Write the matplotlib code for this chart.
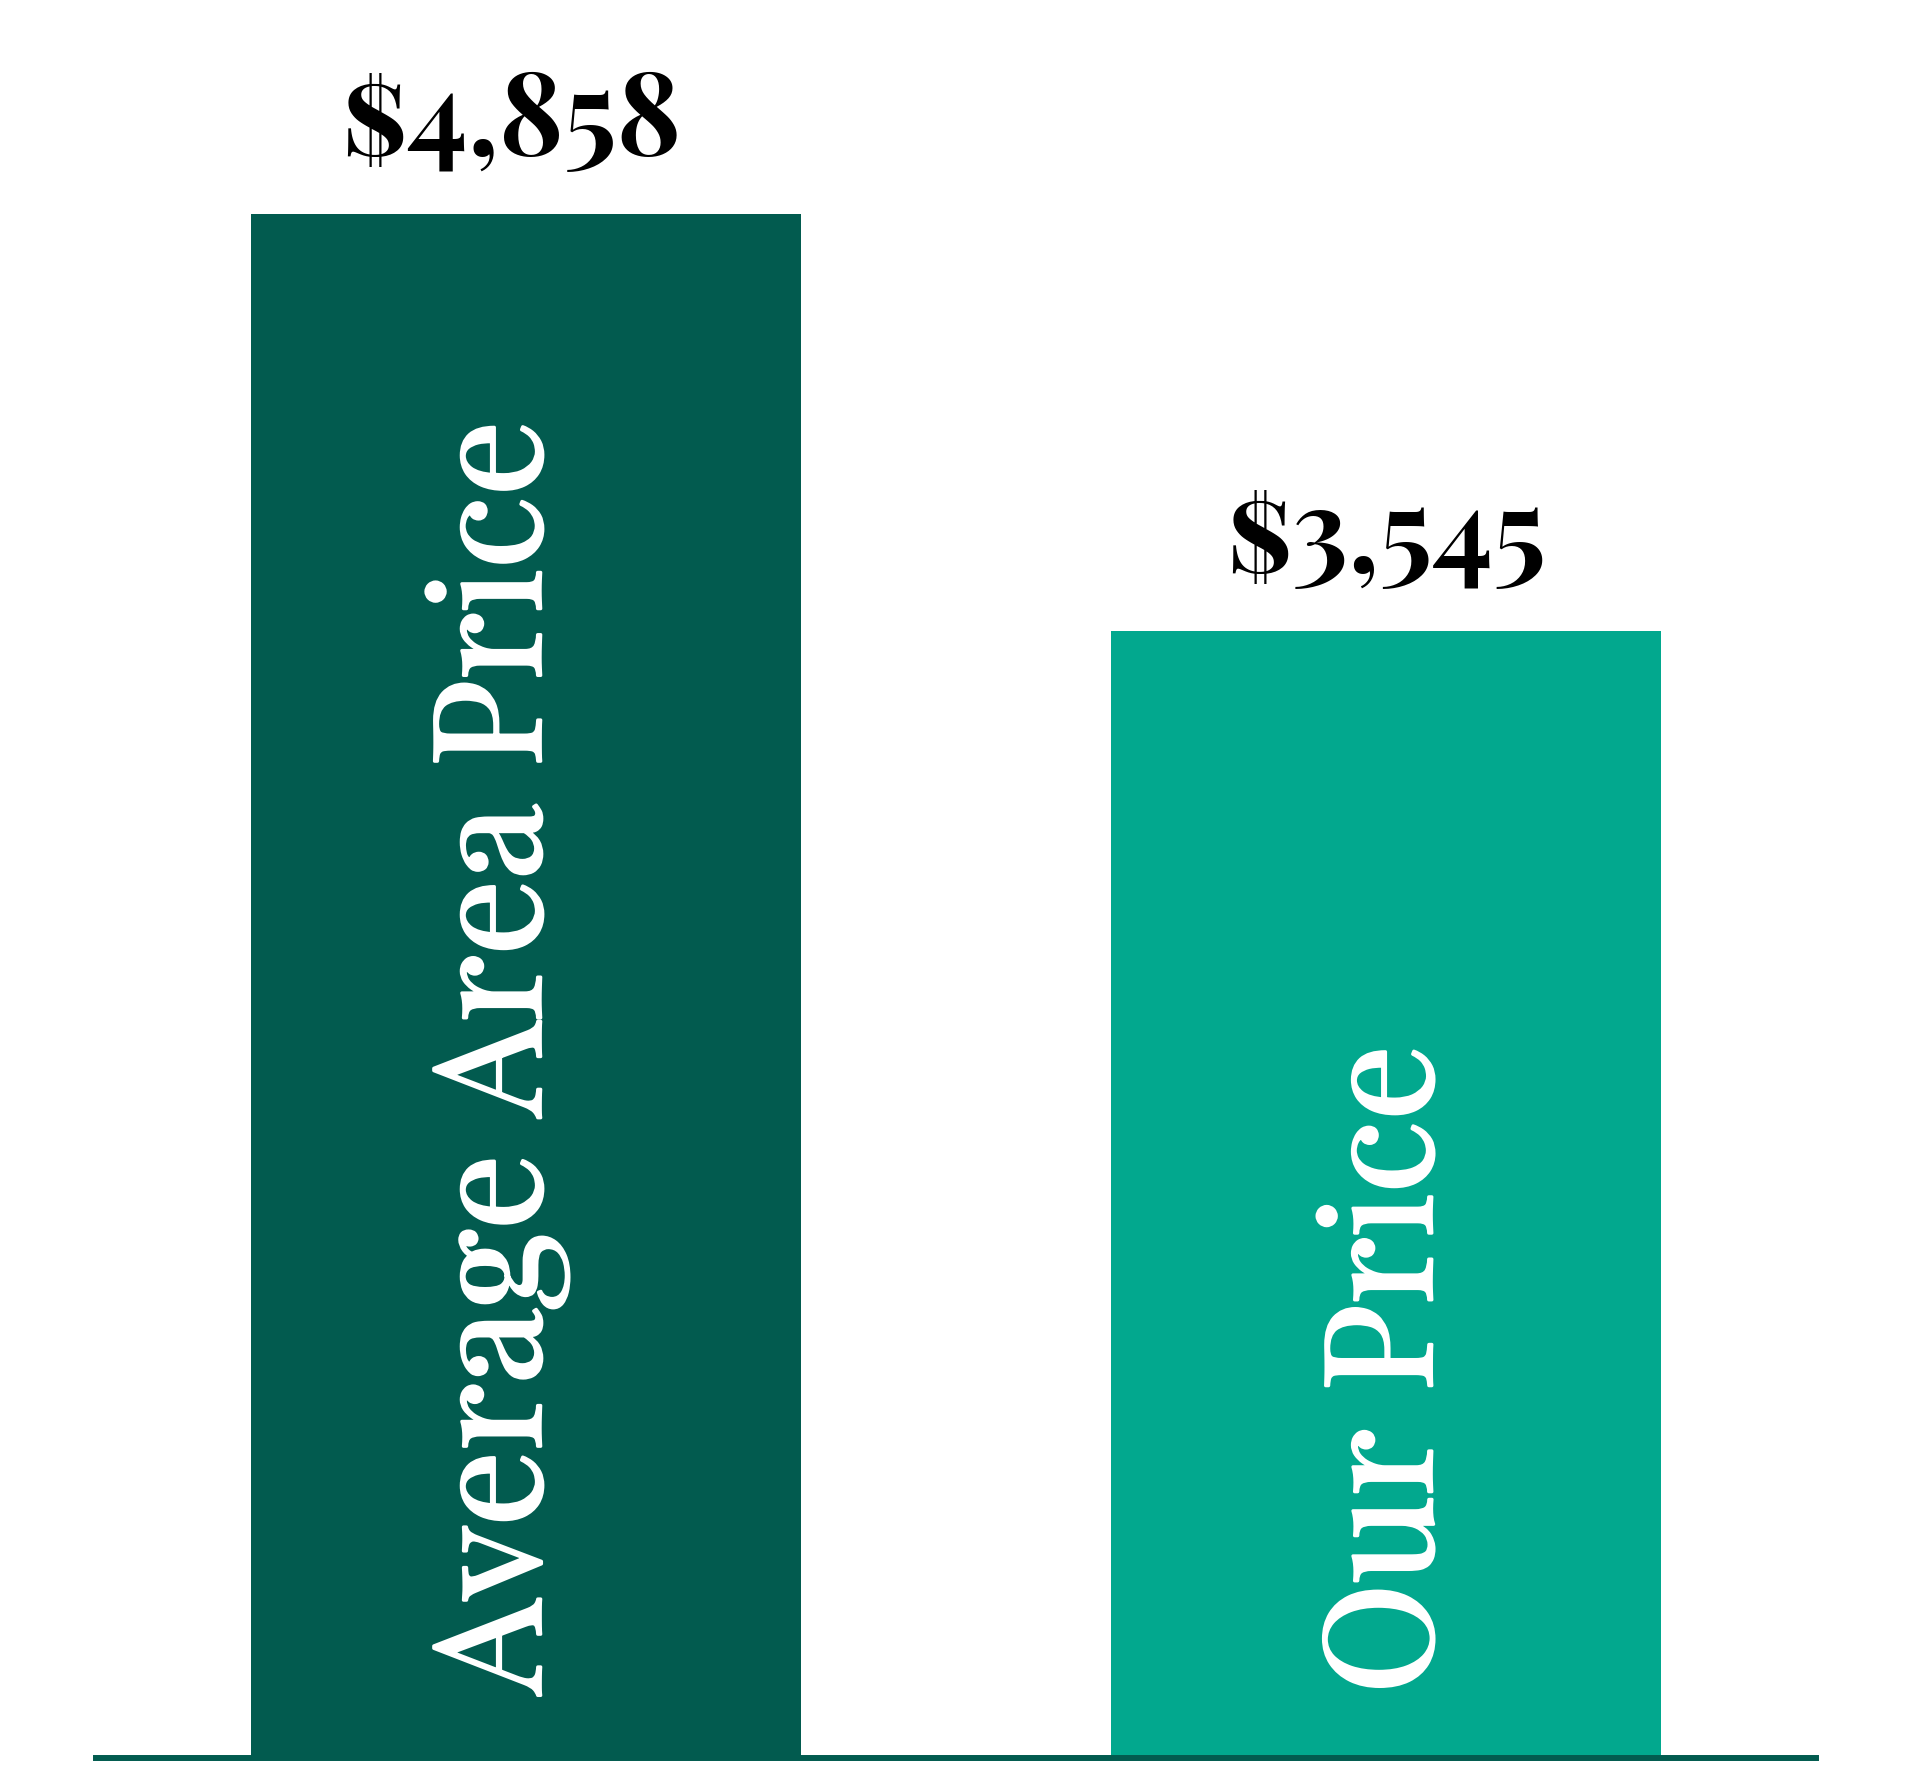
import matplotlib

matplotlib.use("Agg")
import matplotlib.pyplot as plt
import matplotlib.patheffects as pe

# ======================
# Data
# ======================

categories = ["Average Area Price", "Our Price"]
prices = [4858, 3545]
price_labels = ["$4,858", "$3,545"]

# ======================
# Style
# ======================

bar_colors = ["#025B4F", "#02A88E"]
label_shift = [0.017, 0.053]  # baseline offset of the rotated names
value_shift = [-0.017, 0.0]
# Playfair Display ships only as a variable (regular) file here, the SC
# cut has a real bold with the same old-style figures
value_fonts = ["Playfair Display SC", "Liberation Serif", "DejaVu Serif"]
name_fonts = ["Playfair Display", "Liberation Serif", "DejaVu Serif"]

fig = plt.figure(figsize=(19.2, 17.92), dpi=100)
ax = fig.add_axes([0.05, 0.019, 0.896, 0.981])

x = list(range(len(categories)))
ax.bar(x, prices, width=0.64, color=bar_colors, zorder=2)

for i, value in enumerate(prices):
    ax.text(
        x[i] + value_shift[i],
        value + 185,
        price_labels[i],
        ha="center",
        va="baseline",
        fontsize=83,
        fontweight="bold",
        family=value_fonts,
        color="black",
    )
    ax.text(
        x[i] + label_shift[i],
        200,
        categories[i],
        rotation=90,
        rotation_mode="anchor",
        ha="left",
        va="baseline",
        fontsize=108,
        family=name_fonts,
        color="white",
        zorder=3,
        path_effects=[pe.withStroke(linewidth=2.3, foreground="white")],
    )

ax.set_xlim(-0.5, 1.5)
ax.set_ylim(0, 5530)
ax.set_xticks([])
ax.set_yticks([])
for side in ["top", "left", "right"]:
    ax.spines[side].set_visible(False)
ax.spines["bottom"].set_color("#025B4F")
ax.spines["bottom"].set_linewidth(4.3)
ax.spines["bottom"].set_zorder(4)

fig.savefig("out.png", dpi=100, facecolor="white")
